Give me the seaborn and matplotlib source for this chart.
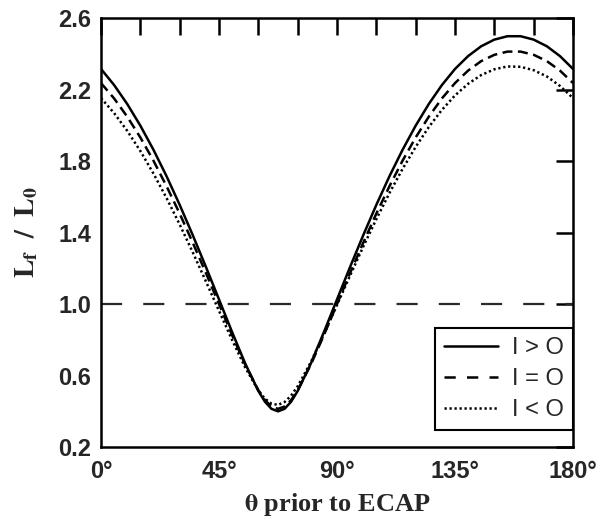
import numpy as np
import pandas as pd
import seaborn as sns
from matplotlib import pyplot as plt
from matplotlib.ticker import MultipleLocator

# theta prior to ECAP (deg) and Lf/L0
theta = [0, 5, 10, 15, 20, 25, 30, 35, 40, 45, 50, 55, 60, 62.5, 65, 67.5, 70, 72.5,
         75, 80, 85, 90, 95, 100, 105, 110, 115, 120, 125, 130, 135, 140, 145, 150,
         155, 160, 165, 170, 175, 180]
ratio_gt = [2.315, 2.225, 2.119, 1.998, 1.863, 1.715, 1.555, 1.385, 1.208, 1.026,
            0.843, 0.667, 0.514, 0.454, 0.414, 0.400, 0.414, 0.454, 0.514, 0.667,
            0.843, 1.026, 1.208, 1.385, 1.555, 1.715, 1.863, 1.998, 2.119, 2.225,
            2.315, 2.387, 2.442, 2.479, 2.498, 2.498, 2.479, 2.442, 2.387, 2.315]
ratio_eq = [2.236, 2.150, 2.048, 1.932, 1.802, 1.659, 1.506, 1.343, 1.174, 1.000,
            0.826, 0.661, 0.518, 0.463, 0.427, 0.414, 0.427, 0.463, 0.518, 0.661,
            0.826, 1.000, 1.174, 1.343, 1.506, 1.659, 1.802, 1.932, 2.048, 2.150,
            2.236, 2.306, 2.359, 2.394, 2.412, 2.412, 2.394, 2.359, 2.306, 2.236]
ratio_lt = [2.152, 2.068, 1.969, 1.856, 1.730, 1.593, 1.445, 1.289, 1.127, 0.962,
            0.799, 0.645, 0.517, 0.471, 0.443, 0.436, 0.452, 0.488, 0.540, 0.675,
            0.831, 0.995, 1.160, 1.321, 1.475, 1.621, 1.756, 1.879, 1.990, 2.086,
            2.167, 2.232, 2.281, 2.313, 2.329, 2.327, 2.308, 2.273, 2.220, 2.152]
cases = ['I > O', 'I = O', 'I < O']
ref_level = 1.0

x_ticks = [0, 45, 90, 135, 180]
x_ticklabels = ['0°', '45°', '90°', '135°', '180°']
y_ticks = [0.2, 0.6, 1.0, 1.4, 1.8, 2.2, 2.6]
y_ticklabels = ['0.2', '0.6', '1.0', '1.4', '1.8', '2.2', '2.6']

df = pd.DataFrame({
    'theta': theta * 3,
    'ratio': ratio_gt + ratio_eq + ratio_lt,
    'case': [c for c in cases for _ in theta],
})

sns.set_style('white')
plt.rcParams['font.family'] = ['Liberation Sans', 'DejaVu Sans']
plt.rcParams['mathtext.fontset'] = 'stix'

fig = plt.figure(figsize=(6.03, 5.26), dpi=100)
ax = fig.add_axes([0.1675, 0.150, 0.7828, 0.8158])

dashes = {'I > O': '', 'I = O': (4, 2.2), 'I < O': (0.9, 1.1)}
sns.lineplot(data=df, x='theta', y='ratio', style='case', style_order=cases,
             dashes=dashes, color='black', linewidth=1.8, ax=ax, legend=True)
ax.axhline(ref_level, color='#2a2a2a', lw=1.6, linestyle=(0, (9.5, 9.5)), zorder=1)

ax.set_xlim(0, 180)
ax.set_ylim(0.2, 2.6)
ax.set_xticks(x_ticks)
ax.set_xticklabels(x_ticklabels)
ax.xaxis.set_minor_locator(MultipleLocator(15))
ax.set_yticks(y_ticks)
ax.set_yticklabels(y_ticklabels)
ax.tick_params(which='both', direction='in', top=True, right=True, length=12,
               width=1.8, color='black')
ax.tick_params(axis='y', labelsize=17, pad=7)
ax.tick_params(axis='x', labelsize=17, pad=9)
for lbl in ax.get_xticklabels() + ax.get_yticklabels():
    lbl.set_fontweight('bold')
for sp in ax.spines.values():
    sp.set_linewidth(1.8)
    sp.set_color('black')

ax.set_xlabel(r'$\mathbf{\theta}$' + ' prior to ECAP', fontsize=19, fontweight='bold',
              family='Liberation Serif', labelpad=6)
ax.set_ylabel(r'$\mathbf{L_f\ \ /\ \ L_0}$', fontsize=20, labelpad=13)

leg = ax.legend(loc='lower right', bbox_to_anchor=(1.0, 0.04), borderaxespad=0,
                frameon=True, fancybox=False, edgecolor='black', fontsize=17,
                handlelength=2.3, handletextpad=0.6, labelspacing=0.38,
                borderpad=0.38)
leg.get_frame().set_linewidth(1.5)
leg.get_frame().set_alpha(1)
leg.get_lines()[1].set_dashes((4.5, 4.5))

fig.savefig('out.png', dpi=100)
